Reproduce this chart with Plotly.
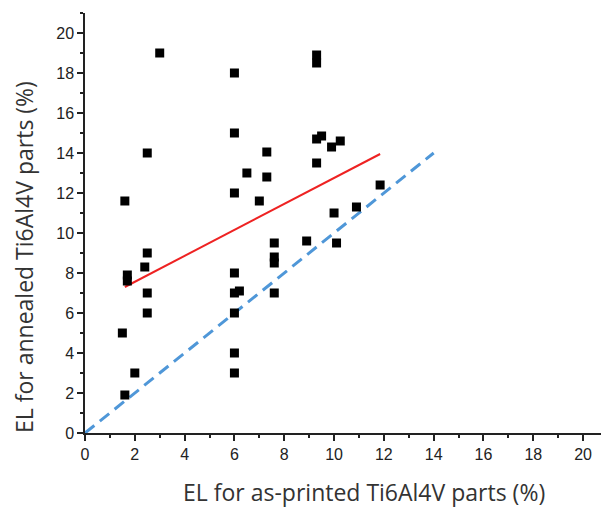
import plotly.graph_objects as go

# as-printed EL (%) vs annealed EL (%)
el_printed = [3.0, 6.0, 6.0, 2.5, 7.3, 6.5, 7.3, 6.0, 7.0, 1.6,
              1.7, 1.7, 2.5, 2.4, 2.5, 2.5, 1.5, 2.0, 1.6,
              6.0, 6.0, 6.2, 6.0, 6.0, 6.0,
              7.6, 7.6, 7.6, 7.6,
              9.3, 9.3, 9.3, 9.5, 9.9, 10.25, 9.3,
              11.85, 10.0, 10.9, 8.9, 10.1]
el_annealed = [19.0, 18.0, 15.0, 14.0, 14.05, 13.0, 12.8, 12.0, 11.6, 11.6,
               7.9, 7.6, 9.0, 8.3, 7.0, 6.0, 5.0, 3.0, 1.9,
               8.0, 7.0, 7.1, 6.0, 4.0, 3.0,
               9.5, 8.8, 8.5, 7.0,
               18.9, 18.5, 14.7, 14.85, 14.3, 14.6, 13.5,
               12.4, 11.0, 11.3, 9.6, 9.5]

# trend line (red) and reference line y = x (blue dashed)
trend_x = [1.6, 11.85]
trend_y = [7.3, 13.95]
ref_x = [0, 14]
ref_y = [0, 14]

tick_vals = list(range(0, 21, 2))
tick_text = [str(v) for v in tick_vals]

x_title = "EL for as-printed Ti6Al4V parts (%)"
y_title = "EL for annealed Ti6Al4V parts (%)"

fig = go.Figure()
fig.add_trace(go.Scatter(x=ref_x, y=ref_y, mode="lines",
                         line=dict(color="#4f97d8", width=3, dash="12px,7px"),
                         showlegend=False))
fig.add_trace(go.Scatter(x=trend_x, y=trend_y, mode="lines",
                         line=dict(color="#ee2222", width=2),
                         showlegend=False))
fig.add_trace(go.Scatter(x=el_printed, y=el_annealed, mode="markers",
                         marker=dict(symbol="square", size=9, color="black"),
                         showlegend=False))

axis_common = dict(
    range=[0, 21], showgrid=False, zeroline=False,
    showline=True, linecolor="#222", linewidth=1.5,
    ticks="outside", ticklen=6, tickwidth=1.5, tickcolor="#222",
    tickvals=tick_vals, ticktext=tick_text,
    tickfont=dict(family="Liberation Sans, Arial", size=16, color="#222"),
    minor=dict(ticks="outside", ticklen=3, tickwidth=1.5, tickcolor="#222", dtick=1, tick0=0, showgrid=False),
    automargin=False,
)

title_font = dict(family="Open Sans", size=23, color="#333")

fig.update_layout(
    width=609, height=507,
    margin=dict(l=77, r=9, t=5, b=82, autoexpand=False),
    paper_bgcolor="white", plot_bgcolor="white",
    xaxis=dict(**axis_common),
    yaxis=dict(**axis_common),
    annotations=[
        dict(text=x_title, xref="paper", yref="paper", x=0.533, y=-0.14,
             xanchor="center", yanchor="middle", showarrow=False, font=title_font),
        dict(text=y_title, xref="paper", yref="paper", x=-0.1166, y=0.419,
             xanchor="center", yanchor="middle", showarrow=False, font=title_font,
             textangle=-90),
    ],
)

fig.write_html("out.html")
